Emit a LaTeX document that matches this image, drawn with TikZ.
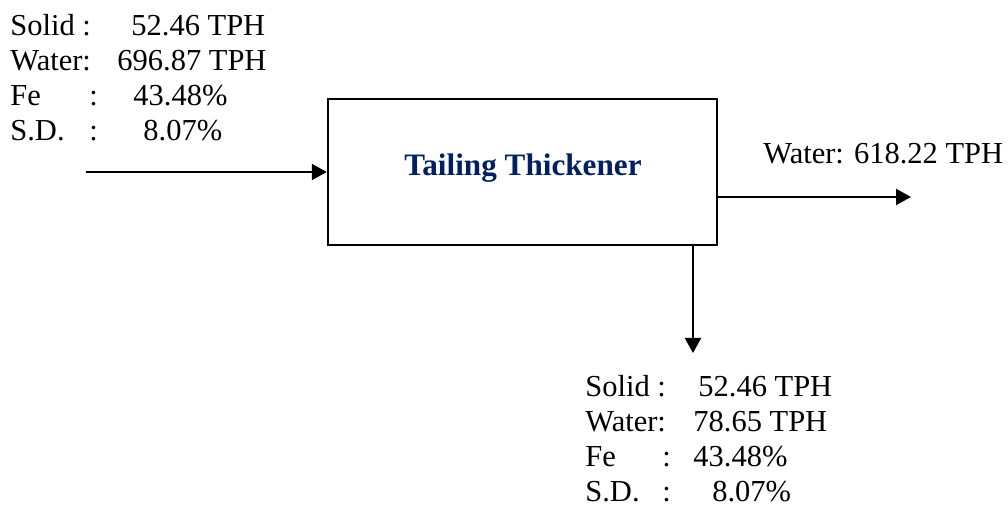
\documentclass[tikz,border=0pt]{standalone}
\usepackage{fontspec}
\setmainfont{Liberation Serif}
\usetikzlibrary{arrows.meta}
\definecolor{navy}{RGB}{0,32,96}
\begin{document}
\begin{tikzpicture}[x=0.5pt,y=-0.5pt,
  lbl/.style={anchor=base west,inner sep=0pt,font=\fontsize{15.25}{18}\selectfont},
  flow/.style={line width=1.1pt,-{Triangle[length=7.5pt,width=8pt]}},
  unit/.style={draw,line width=1.2pt,minimum width=194.5pt,minimum height=73pt,inner sep=0pt}]
\useasboundingbox (0,0) rectangle (1008,506);
% box
\node[unit] (box) at (522.5,172) {};
\node[font=\fontsize{15.6}{18}\selectfont\bfseries,text=navy,anchor=base,inner sep=0pt] (title) at (523,176) {Tailing Thickener};
% input label
\node[lbl] (i1) at (10,36)  {\makebox[60.5pt][l]{Solid :}52.46 TPH};
\node[lbl] (i2) at (10,71)  {\makebox[53.5pt][l]{Water:}696.87 TPH};
\node[lbl] (i3) at (10,106) {\makebox[39.5pt][l]{Fe}\makebox[22pt][l]{:}43.48\%};
\node[lbl] (i4) at (10,141) {\makebox[39.5pt][l]{S.D.}\makebox[27pt][l]{:}8.07\%};
% right label
\node[lbl] (o1) at (763,164) {Water: 618.22 TPH};
% bottom label
\node[lbl] (b1) at (585,397) {\makebox[56.5pt][l]{Solid :}52.46 TPH};
\node[lbl] (b2) at (585,432) {\makebox[54pt][l]{Water:}78.65 TPH};
\node[lbl] (b3) at (585,467) {\makebox[38.5pt][l]{Fe}\makebox[15.5pt][l]{:}43.48\%};
\node[lbl] (b4) at (585,502) {\makebox[38.5pt][l]{S.D.}\makebox[25pt][l]{:}8.07\%};
% connectors
\coordinate (in) at (86,172);
\coordinate (out) at (911,197);
\coordinate (down) at (693,353);
\draw[flow] (in) -- (box.west);
\draw[flow] (box.east |- out) -- (out);
\draw[flow] (box.south -| down) -- (down);
\end{tikzpicture}
\end{document}
